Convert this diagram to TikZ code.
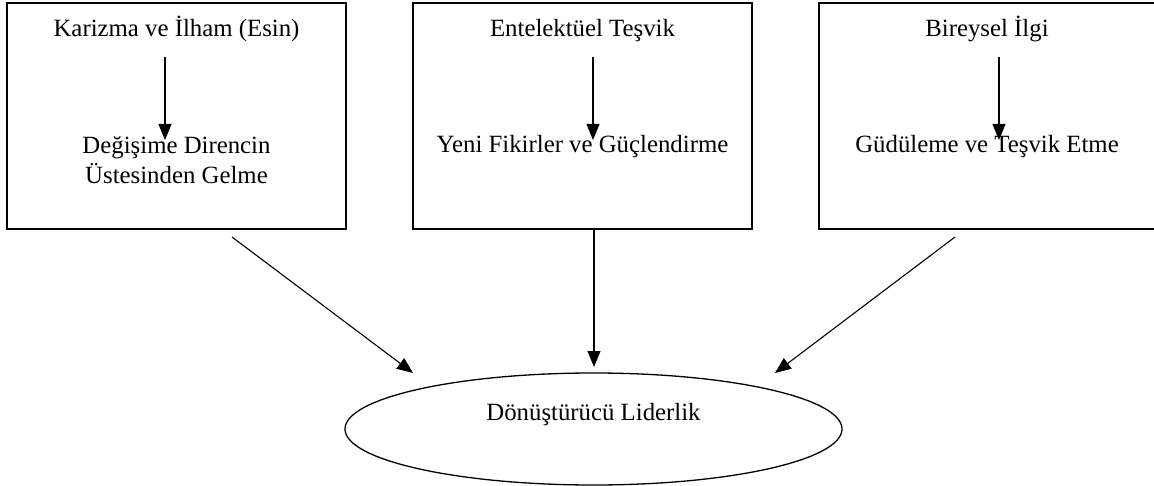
\documentclass[tikz,border=0pt]{standalone}
\usepackage{fontspec}
\setmainfont{Liberation Serif}
\usetikzlibrary{arrows.meta,shapes.geometric}

\tikzset{
kutu/.style={rectangle, draw, line width=0.65pt, minimum width=169.5pt,
minimum height=113pt, inner sep=0pt},
yazi/.style={anchor=base, inner sep=0pt, align=center,
font=\fontsize{12.4}{15}\selectfont},
ok/.style={-{Triangle[length=8pt,width=6.5pt]}, line width=0.55pt}
}

\begin{document}
\begin{tikzpicture}[x=0.5pt,y=-0.5pt]
\useasboundingbox (0,0) rectangle (1154,486);
% ust kutular
\node[kutu] (k1) at (176.5,116) {};
\node[kutu] (k2) at (582.5,116) {};
\node[kutu] (k3) at (988.5,116) {};
\node[yazi] (t1) at (176.5,37) {Karizma ve İlham (Esin)};
\node[yazi] (d1) at (176.5,184) {Değişime Direncin\\Üstesinden Gelme};
\node[yazi] (t2) at (582.5,37) {Entelektüel Teşvik};
\node[yazi] (d2) at (582.5,153) {Yeni Fikirler ve Güçlendirme};
\node[yazi] (t3) at (987,37) {Bireysel İlgi};
\node[yazi] (d3) at (987,153) {Güdüleme ve Teşvik Etme};
% alt elips
\node[ellipse, draw, line width=0.65pt, minimum width=248.5pt,
minimum height=56pt, inner sep=0pt] (lider) at (593.5,429) {};
\node[yazi] (lt) at (593.5,420) {Dönüştürücü Liderlik};
% oklar
\coordinate (a1) at (165,57);
\coordinate (b1) at (165,140);
\coordinate (a2) at (593,57);
\coordinate (b2) at (593,140);
\coordinate (a3) at (999,57);
\coordinate (b3) at (999,140);
\foreach \i in {1,2,3}
  \draw[ok] (a\i) -- (b\i);
\coordinate (s1) at (232,237);
\coordinate (e1) at (413,373);
\coordinate (s2) at (594,229);
\coordinate (e2) at (594,367);
\coordinate (s3) at (955,237);
\coordinate (e3) at (775,373);
\foreach \i in {1,2,3}
  \draw[ok] (s\i) -- (e\i);
\end{tikzpicture}
\end{document}
